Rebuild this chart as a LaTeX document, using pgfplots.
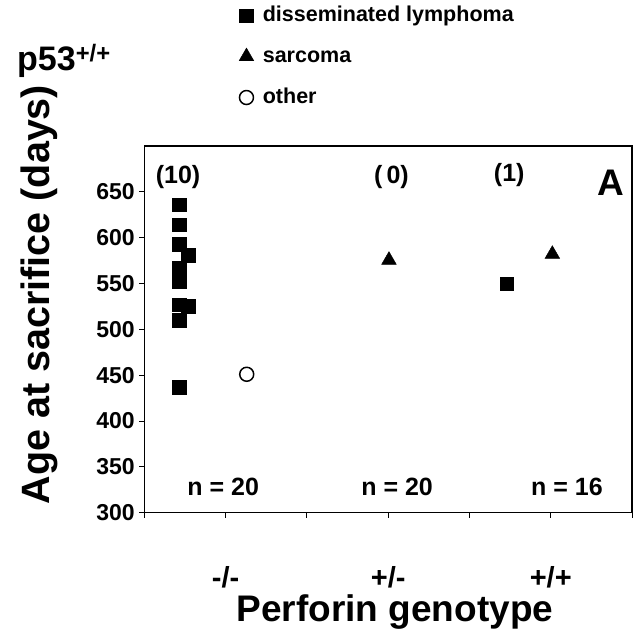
\documentclass[border=0pt]{standalone}
\usepackage{pgfplots}
\pgfplotsset{compat=1.18}
\usepackage{fontspec}
\setmainfont{Liberation Sans}
\newcommand{\fs}[1]{\bfseries\fontsize{#1}{#1}\selectfont}
\begin{document}
\begin{tikzpicture}[x=1pt,y=1pt]
\useasboundingbox (0,0) rectangle (639,639);
\begin{axis}[
  at={(144.3pt,126.3pt)}, anchor=south west,
  scale only axis, width=487.7pt, height=366.7pt,
  xmin=0, xmax=6, ymin=300, ymax=700,
  xtick={0,1,2,3,4,5,6}, xticklabels={,-/-,,+/-,,+/+,},
  ytick={300,350,...,650},
  tick align=outside, major tick length=5pt,
  xtick pos=bottom, ytick pos=left,
  axis line style={line width=1.1pt},
  every tick/.style={black, line width=1pt},
  /pgf/number format/assume math mode=true,
  yticklabel style={font=\fs{23}, xshift=-1pt},
  xticklabel style={font=\fs{29}, yshift=-45pt},
  xlabel={Perforin genotype},
  ylabel={Age at sacrifice (days)},
  xlabel style={font=\fs{37}, at={(axis description cs:0.514,-0.27)}, anchor=center},
  ylabel style={font=\fs{39.5}, at={(axis description cs:-0.215,0.595)}, anchor=center},
  legend style={at={(axis description cs:0.194,1.385)}, anchor=north west, draw=none, fill=none,
    inner sep=0pt, row sep=20pt, column sep=9pt, font=\fs{21.5},
    nodes={inner sep=0pt, text height=16pt, text depth=5pt}},
  legend cell align=left,
  legend image code/.code={\draw[#1] plot coordinates {(0pt,0pt)};},
]
\addplot[only marks, mark=square*, mark size=6.8pt, black] coordinates {
  (0.43,636) (0.43,614) (0.43,593) (0.54,581) (0.43,567) (0.43,552)
  (0.43,527) (0.54,525) (0.43,510) (0.43,437) (4.46,550)};
\addlegendentry{disseminated lymphoma}
\addplot[only marks, mark=triangle*, mark size=8.5pt, black] coordinates {
  (3.01,575.5) (5.02,582)};
\addlegendentry{sarcoma}
\addplot[only marks, mark=o, mark size=7pt, black, mark options={line width=1.5pt}] coordinates {
  (1.26,451)};
\addlegendentry{other}
\node[font=\fs{25}] at (axis cs:0.415,666) {(10)};
\node[font=\fs{25}] at (axis cs:3.04,666) {(\,0)};
\node[font=\fs{25}] at (axis cs:4.49,668) {(1)};
\node[font=\fs{37}] at (axis cs:5.74,660) {A};
\node[font=\fs{25}] at (axis cs:0.97,328) {n = 20};
\node[font=\fs{25}] at (axis cs:3.11,328) {n = 20};
\node[font=\fs{25}] at (axis cs:5.2,328) {n = 16};
\end{axis}
\node[anchor=base west, font=\fs{34}, inner sep=0pt] at (17,568) {p53\textsuperscript{+/+}};
\end{tikzpicture}
\end{document}
